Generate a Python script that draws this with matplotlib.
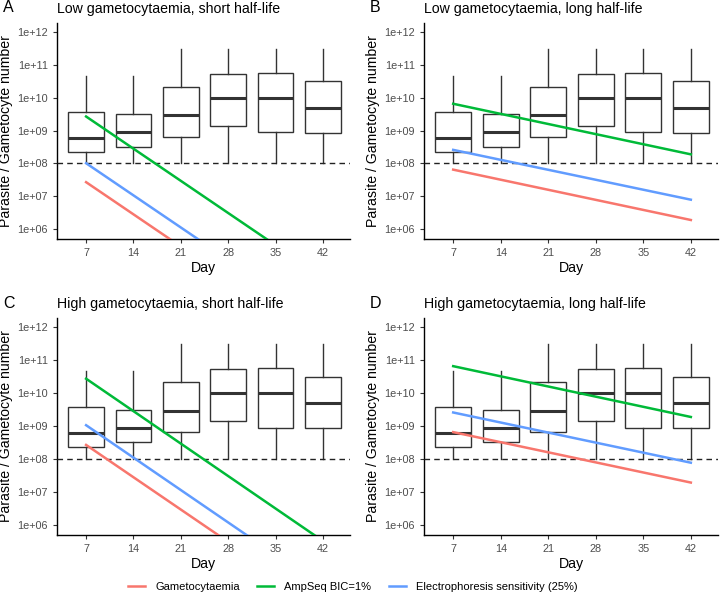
import numpy as np
import matplotlib
matplotlib.use("Agg")
import matplotlib.pyplot as plt
from matplotlib.lines import Line2D

plt.rcParams['font.family'] = ['Liberation Sans', 'DejaVu Sans']

days = [7, 14, 21, 28, 35, 42]
box_lo = [1e8, 1e8, 1e8, 1e8, 1e8, 1e8]
box_q1 = [2.3e8, 3.2e8, 6.5e8, 1.4e9, 8.9e8, 8.5e8]
box_med = [6.0e8, 8.9e8, 2.95e9, 9.8e9, 1.0e10, 4.9e9]
box_q3 = [3.8e9, 3.2e9, 2.2e10, 5.5e10, 5.75e10, 3.2e10]
box_hi = [4.7e10, 4.7e10, 3.1e11, 3.1e11, 3.1e11, 3.1e11]

line_days = [7, 42]
# day 7 / day 42 values of each curve, per panel
gam_A, amp_A, elec_A = [2.7e7, 3.4e2], [2.7e9, 3.4e4], [1.02e8, 1.3e3]
gam_B, amp_B, elec_B = [6.5e7, 1.9e6], [6.6e9, 1.9e8], [2.6e8, 7.9e6]
gam_C, amp_C, elec_C = [2.7e8, 3.4e3], [2.75e10, 3.3e5], [1.07e9, 1.3e4]
gam_D, amp_D, elec_D = [6.6e8, 1.95e7], [6.6e10, 1.9e9], [2.6e9, 7.8e7]

threshold = 1e8
titles = ["Low gametocytaemia, short half-life", "Low gametocytaemia, long half-life",
          "High gametocytaemia, short half-life", "High gametocytaemia, long half-life"]
tags = ["A", "B", "C", "D"]
series = [(gam_A, amp_A, elec_A), (gam_B, amp_B, elec_B),
          (gam_C, amp_C, elec_C), (gam_D, amp_D, elec_D)]
names = ["Gametocytaemia", "AmpSeq BIC=1%", "Electrophoresis sensitivity (25%)"]
cols = ["#F8766D", "#00BA38", "#619CFF"]

fig = plt.figure(figsize=(7.2, 5.95), dpi=100)
W, H = 720, 595
# axes boxes in pixels: left, top, right, bottom
boxes = [(57, 23, 350, 239), (424, 23, 718, 239), (57, 318, 350, 535), (424, 318, 718, 535)]

for i in range(4):
	l, t, r, b = boxes[i]
	ax = fig.add_axes([l/W, 1-b/H, (r-l)/W, (b-t)/H])
	stats = [dict(whislo=box_lo[k], q1=box_q1[k], med=box_med[k], q3=box_q3[k],
				  whishi=box_hi[k], fliers=[]) for k in range(len(days))]
	ax.bxp(stats, positions=days, widths=5.25, showcaps=False, patch_artist=True,
		   boxprops=dict(facecolor='white', edgecolor='#333333', linewidth=1.0),
		   whiskerprops=dict(color='#333333', linewidth=1.0),
		   medianprops=dict(color='#333333', linewidth=2.2), zorder=2)
	ax.axhline(threshold, color='#222222', ls=(0, (4, 3)), lw=1.0, zorder=3)
	for s, c in zip(series[i], cols):
		ax.plot(line_days, s, color=c, lw=1.8, zorder=4)
	ax.set_yscale('log')
	ax.set_ylim(10**5.7, 10**12.28)
	ax.set_xlim(2.7, 46.0)
	ax.set_xticks(days)
	ax.set_xticklabels([str(d) for d in days])
	yt = [1e6, 1e7, 1e8, 1e9, 1e10, 1e11, 1e12]
	ax.set_yticks(yt)
	ax.set_yticklabels(["1e+%02d" % int(np.log10(v)) for v in yt])
	ax.yaxis.set_minor_locator(matplotlib.ticker.NullLocator())
	ax.tick_params(labelsize=7.8, colors='#333333', labelcolor='#4D4D4D', length=3, width=0.8)
	for sp in ['top', 'right']:
		ax.spines[sp].set_visible(False)
	for sp in ['left', 'bottom']:
		ax.spines[sp].set_linewidth(1.0)
	ax.set_xlabel("Day", fontsize=10.2, labelpad=2)
	ax.set_ylabel("Parasite / Gametocyte number", fontsize=10.2, labelpad=3)
	ax.set_title(titles[i], fontsize=10.2, loc='left', pad=7)
	fig.text((l-54)/W, 1-(t-15)/H, tags[i], fontsize=11.5, va='center', ha='left')

handles = [Line2D([], [], color=c, lw=1.8) for c in cols]
fig.legend(handles, names, loc='center', bbox_to_anchor=(0.49, 1-587/H), ncol=3,
		   frameon=False, fontsize=8, handlelength=1.5, columnspacing=1.6, handletextpad=0.9)

fig.savefig("out.png", dpi=100)
